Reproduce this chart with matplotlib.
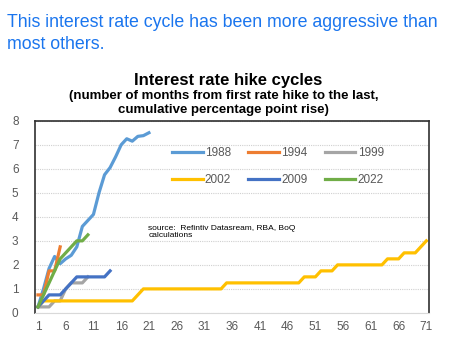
import numpy as np
import matplotlib
matplotlib.use('Agg')
import matplotlib.pyplot as plt

## Cumulative rise (percentage points) by month since first hike ##
cycle_1988 = [0.25, 1.0, 1.85, 2.35, 2.05, 2.25, 2.4, 2.75, 3.6, 3.85, 4.1,
              5.0, 5.75, 6.05, 6.5, 7.0, 7.25, 7.15, 7.35, 7.38, 7.5]
cycle_1994 = [0.75, 0.75, 1.75, 1.75, 2.75]
cycle_1999 = [0.25, 0.25, 0.25, 0.5, 0.5, 1.0, 1.25, 1.25, 1.25, 1.5]
cycle_2002 = ([0.25] + [0.5] * 17 + [0.75] + [1.0] * 15 + [1.25] * 14
              + [1.5] * 3 + [1.75] * 3 + [2.0] * 9 + [2.25] * 3 + [2.5] * 3
              + [2.75, 3.0])
cycle_2009 = [0.25, 0.5, 0.75, 0.75, 0.75, 1.0, 1.25, 1.5, 1.5, 1.5, 1.5,
              1.5, 1.5, 1.75]
cycle_2022 = [0.25, 0.75, 1.25, 1.75, 2.25, 2.5, 2.75, 3.0, 3.0, 3.25]

series = [('1988', cycle_1988, '#5B9BD5'),
          ('1994', cycle_1994, '#ED7D31'),
          ('1999', cycle_1999, '#A5A5A5'),
          ('2002', cycle_2002, '#FFC000'),
          ('2009', cycle_2009, '#4472C4'),
          ('2022', cycle_2022, '#70AD47')]

x_ticks = list(range(1, 72, 5))

plt.rcParams['font.family'] = ['Liberation Sans', 'DejaVu Sans']

fig = plt.figure(figsize=(4.57, 3.45), dpi=100)
ax = fig.add_axes([0.077, 0.093, 0.862, 0.557])

lines = {}
for name, vals, col in series:
    months = np.arange(1, len(vals) + 1)
    lines[name], = ax.plot(months, vals, color=col, lw=2.3, label=name,
                           solid_joinstyle='round')

ax.set_xlim(0.5, 71.5)
ax.set_ylim(0, 8)
ax.set_xticks(x_ticks)
ax.set_yticks(range(0, 9))
ax.tick_params(length=0, labelsize=8.5, colors='#595959', pad=6)
ax.tick_params(axis='y', pad=12)
ax.grid(axis='y', color='#D0D0D0', linestyle=(0, (1, 1)), lw=0.8)
ax.set_axisbelow(True)
for s in ['left', 'top', 'right']:
    ax.spines[s].set_color('#303030')
    ax.spines[s].set_linewidth(1.2)
ax.spines['bottom'].set_color('#D9D9D9')

# legend is filled column by column, so reorder to get two rows of three
order = ['1988', '2002', '1994', '2009', '1999', '2022']
ax.legend([lines[n] for n in order], order, ncol=3, frameon=False,
          loc='upper left', bbox_to_anchor=(0.32, 0.92), fontsize=8.5,
          labelcolor='#595959', handlelength=2.6, handletextpad=0.2,
          columnspacing=1.45, labelspacing=1.3)

ax.text(0.287, 0.46, 'source:  Refintiv Datasream, RBA, BoQ\ncalculations',
        transform=ax.transAxes, fontsize=6.0, va='top', ha='left',
        linespacing=1.0)

# headline, two lines
fig.text(0.016, 1 - 27 / 345, 'This interest rate cycle has been more aggressive than',
         color='#1A75EE', fontsize=12.8, va='baseline', ha='left')
fig.text(0.016, 1 - 49 / 345, 'most others.',
         color='#1A75EE', fontsize=12.8, va='baseline', ha='left')

fig.text(0.5, 1 - 85 / 345, 'Interest rate hike cycles', fontsize=12,
         fontweight='bold', ha='center', va='baseline')
fig.text(0.49, 1 - 99 / 345, '(number of months from first rate hike to the last,',
         fontsize=9.5, fontweight='bold', ha='center', va='baseline')
fig.text(0.49, 1 - 113 / 345, 'cumulative percentage point rise)',
         fontsize=9.5, fontweight='bold', ha='center', va='baseline')

plt.savefig('out.png', dpi=100)
